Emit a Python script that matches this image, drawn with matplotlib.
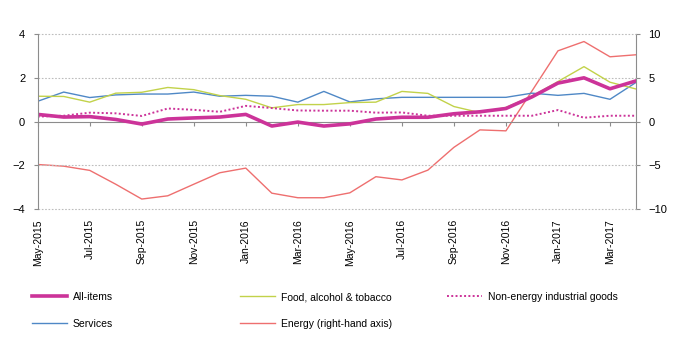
import matplotlib
matplotlib.use("Agg")
import matplotlib.pyplot as plt

plt.rcParams["font.family"] = ["Liberation Sans", "DejaVu Sans"]
plt.rcParams["font.size"] = 7.5

months = ["May-2015", "Jun-2015", "Jul-2015", "Aug-2015", "Sep-2015", "Oct-2015",
          "Nov-2015", "Dec-2015", "Jan-2016", "Feb-2016", "Mar-2016", "Apr-2016",
          "May-2016", "Jun-2016", "Jul-2016", "Aug-2016", "Sep-2016", "Oct-2016",
          "Nov-2016", "Dec-2016", "Jan-2017", "Feb-2017", "Mar-2017", "Apr-2017"]

all_items = [0.33, 0.21, 0.23, 0.10, -0.11, 0.12, 0.17, 0.21, 0.33, -0.20, -0.02, -0.20,
             -0.10, 0.12, 0.20, 0.20, 0.36, 0.45, 0.60, 1.13, 1.76, 2.00, 1.50, 1.86]
food = [1.16, 1.15, 0.89, 1.30, 1.34, 1.56, 1.46, 1.19, 1.02, 0.63, 0.78, 0.78,
        0.87, 0.89, 1.38, 1.29, 0.69, 0.41, 0.65, 1.16, 1.83, 2.51, 1.80, 1.49]
non_energy = [0.23, 0.27, 0.41, 0.38, 0.26, 0.60, 0.54, 0.45, 0.72, 0.62, 0.51, 0.50,
              0.50, 0.41, 0.42, 0.27, 0.27, 0.27, 0.27, 0.27, 0.53, 0.18, 0.27, 0.27]
services = [0.93, 1.35, 1.10, 1.22, 1.26, 1.26, 1.35, 1.16, 1.20, 1.16, 0.89, 1.38,
            0.90, 1.04, 1.11, 1.11, 1.11, 1.11, 1.11, 1.30, 1.20, 1.29, 1.02, 1.79]
energy = [-4.89, -5.08, -5.56, -7.14, -8.83, -8.46, -7.14, -5.83, -5.30, -8.16, -8.68, -8.68,
          -8.12, -6.28, -6.65, -5.53, -2.93, -0.94, -1.05, 3.50, 8.08, 9.14, 7.40, 7.63]

C_ALL = "#CC3399"
C_FOOD = "#C2D24A"
C_SERV = "#4F88C6"
C_ENER = "#EE6F6F"
GREY = "#8C8C8C"

x = list(range(len(months)))

fig = plt.figure(figsize=(6.76, 3.54), dpi=100)
ax = fig.add_axes([37.7 / 676, 1 - 209.3 / 354, (636 - 37.7) / 676, (209.3 - 34) / 354])
ax2 = ax.twinx()
ax.set_zorder(ax2.get_zorder() + 1)
ax.patch.set_visible(False)

l_ener, = ax2.plot(x, energy, color=C_ENER, lw=1.0)
l_serv, = ax.plot(x, services, color=C_SERV, lw=1.0)
l_food, = ax.plot(x, food, color=C_FOOD, lw=1.0)
l_non, = ax.plot(x, non_energy, color=C_ALL, lw=1.4, ls=(0, (1, 1.2)))
l_all, = ax.plot(x, all_items, color=C_ALL, lw=2.6)

ax.set_xlim(0, len(months) - 1)
ax.set_ylim(-4, 4)
ax.set_yticks([-4, -2, 0, 2, 4])
ax2.set_ylim(-10, 10)
ax2.set_yticks([-10, -5, 0, 5, 10])

# dotted grid, zero line is the x axis itself
for v in [-4, -2, 2, 4]:
    ax.axhline(v, color="#BDBDBD", lw=0.8, ls=(0, (1.5, 1.5)), zorder=0, clip_on=False)

for a in (ax, ax2):
    a.spines["top"].set_visible(False)
    a.spines["left"].set_color(GREY)
    a.spines["right"].set_color(GREY)
ax.spines["right"].set_visible(False)
ax2.spines["left"].set_visible(False)
ax2.spines["bottom"].set_visible(False)

ax.tick_params(axis="y", length=3, color=GREY, pad=6, labelsize=8)
ax2.tick_params(axis="y", length=3, color=GREY, pad=6, labelsize=8)

# x axis line with ticks sits at zero, month labels stay at the bottom
ax.spines["bottom"].set_position(("data", 0))
ax.spines["bottom"].set_color(GREY)
ax.spines["bottom"].set_zorder(1)
ax.set_xticks(x[::2])
ax.tick_params(axis="x", length=3, color=GREY, labelbottom=False)

lab = ax.secondary_xaxis("bottom")
lab.spines["bottom"].set_visible(False)
lab.set_xticks(x[::2])
lab.set_xticklabels(months[::2], rotation=90, va="top")
lab.tick_params(axis="x", length=0, pad=7, labelsize=7.5)

leg_kw = dict(loc="upper left", frameon=False, borderpad=0, borderaxespad=0,
              handlelength=3.4, handletextpad=0.5, labelspacing=1.6, fontsize=7.5)
fig.legend([l_all, l_serv], ["All-items", "Services"],
           bbox_to_anchor=(32 / 676, 1 - 292 / 354), **leg_kw)
fig.legend([l_food, l_ener], ["Food, alcohol & tobacco", "Energy (right-hand axis)"],
           bbox_to_anchor=(240 / 676, 1 - 292 / 354), **leg_kw)
fig.legend([l_non], ["Non-energy industrial goods"],
           bbox_to_anchor=(447 / 676, 1 - 292 / 354), **leg_kw)

fig.savefig("out.png", dpi=100)
